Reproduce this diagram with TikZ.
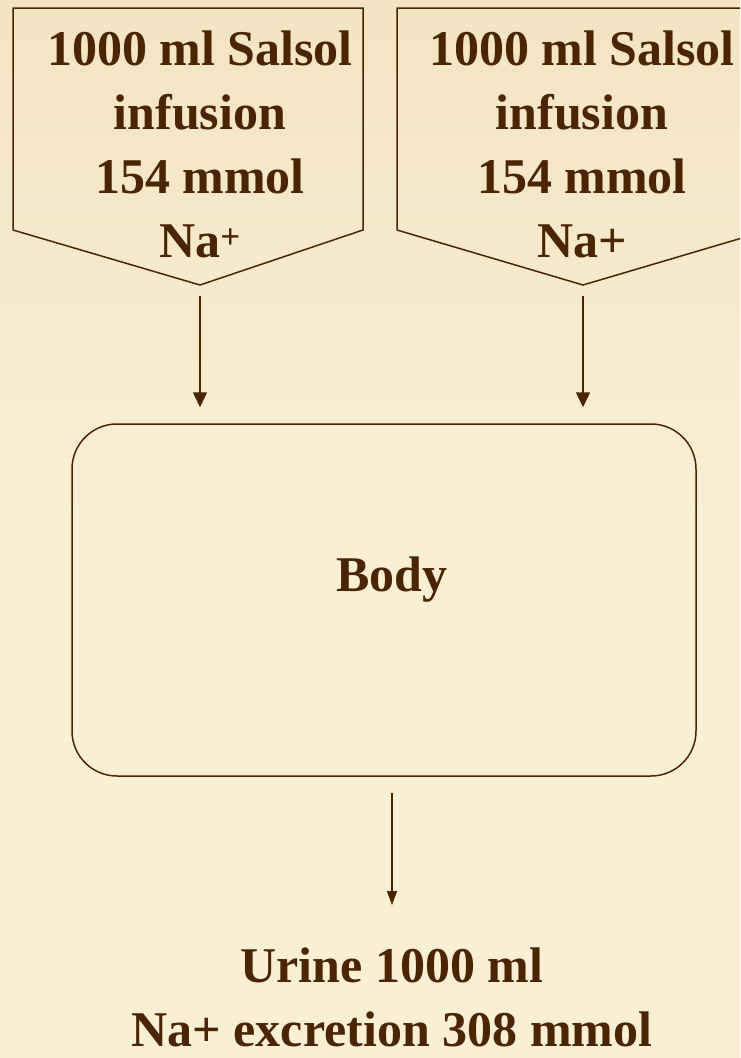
\documentclass[tikz,border=0pt]{standalone}
\usepackage{fontspec}
\setmainfont{Liberation Serif}
\usetikzlibrary{arrows.meta,calc}

\definecolor{ink}{HTML}{4A2500}
\definecolor{paper}{HTML}{F9EFD5}
\definecolor{papertop}{HTML}{F3E4C3}

\tikzset{
  infusion/.style={draw=ink, line width=1.5pt, line join=miter},
  bodybox/.style={draw=ink, line width=1.5pt, rounded corners=45pt, minimum width=624pt, minimum height=352pt, inner sep=0pt},
  lbl/.style={text=ink, align=center, inner sep=0pt, font=\fontsize{50}{64}\selectfont\bfseries},
  flow/.style={draw=ink, line width=1.5pt, -{Triangle[length=15pt,width=14pt]}},
  flowout/.style={draw=ink, line width=1.3pt, -{Triangle[length=14pt,width=10pt]}}
}

\begin{document}
\begin{tikzpicture}[x=1pt,y=-1pt]
			\useasboundingbox (0,0) rectangle (740,1058);
			\clip (0,0) rectangle (740,1058);
			\shade[top color=papertop, bottom color=paper, middle color=paper] (0,0) rectangle (740,1058);
			% the two infusions
			\draw[infusion] (13,8) -- (363,8) -- (363,230) -- (200,285) -- (13,230) -- cycle;
			\draw[infusion] (397,8) -- (769,8) -- (769,230) -- (583,285) -- (397,230) -- cycle;
			\coordinate (tipL) at (200,285);
			\coordinate (tipR) at (583,285);
			\node[lbl, anchor=north] (infL) at (200,31) {1000 ml Salsol\\infusion\\154 mmol\\Na\textsuperscript{+}};
			\node[lbl, anchor=north] (infR) at (582,31) {1000 ml Salsol\\infusion\\154 mmol\\Na+};
			% body
			\node[bodybox] (body) at (384,600) {};
			\node[lbl] (bodytxt) at (392,580) {Body};
			% urine
			\coordinate (sink) at (392,905);
			\node[lbl, anchor=north] (urine) at (392,948) {Urine 1000 ml\\Na+ excretion 308 mmol};
			% arrows
			\draw[flow, shorten <=11pt, shorten >=16pt] (tipL) -- (tipL |- body.north);
			\draw[flow, shorten <=11pt, shorten >=16pt] (tipR) -- (tipR |- body.north);
			\draw[flowout, shorten <=16pt] (body.south -| sink) -- (sink);
		\end{tikzpicture}
\end{document}
